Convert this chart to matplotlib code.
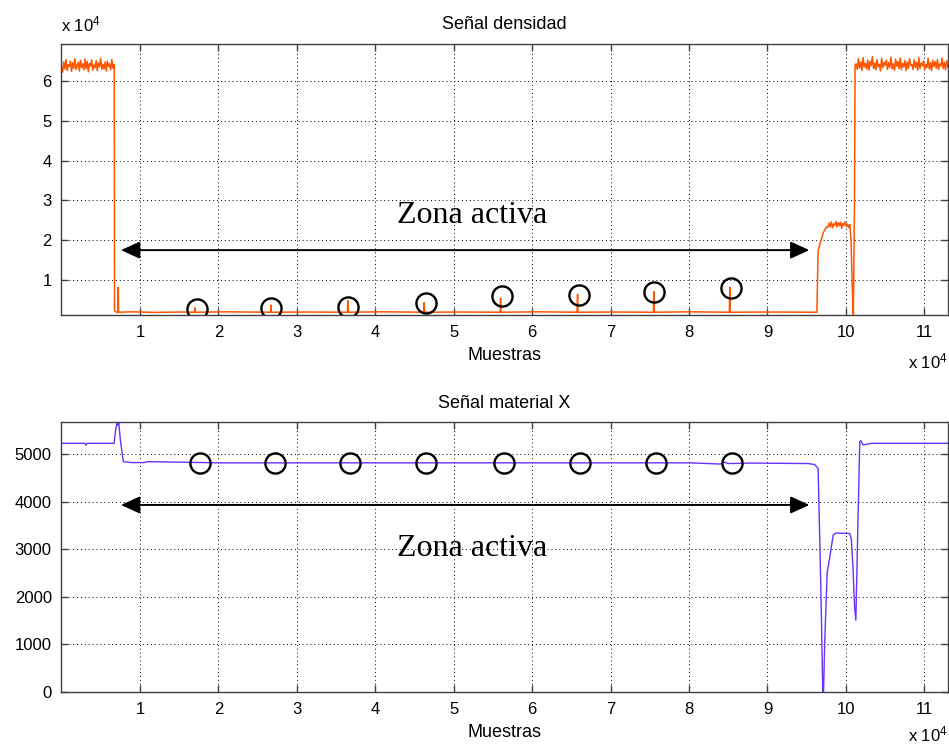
# -*- coding: utf-8 -*-
"""
Senal densidad / Senal material X  (estilo MATLAB)
"""
import numpy as np
import matplotlib
matplotlib.use('Agg')
import matplotlib.pyplot as plt
from matplotlib.ticker import FuncFormatter

plt.rcParams['font.family'] = ['Liberation Sans', 'DejaVu Sans']
plt.rcParams['mathtext.default'] = 'regular'

# ---------------- datos: senal densidad ----------------
dens_ruido_izq = [63500, 62200, 64800, 63000, 65400, 62600, 64100, 63700, 65000, 62400,
                  64600, 63200, 65600, 62900, 63900, 64700, 62500, 65200, 63400, 64300,
                  62800, 65500, 63100, 64900, 62300, 64400, 63800, 65300, 62700, 64000,
                  63300, 65100, 62600, 64500, 63600, 65700, 62900, 64200, 63000, 64800,
                  62500, 65000, 63700, 64300, 62800, 65400, 63200, 64100]
dens_ruido_izq_lim = (0, 6700)

dens_zona_x = [6730, 6760, 7000, 7200, 7240, 7280, 9000, 12000, 15000,
               16950, 17010, 17070, 21000, 26640, 26700, 26760, 31000,
               36460, 36520, 36580, 41000, 46180, 46240, 46300, 51000,
               55920, 55980, 56040, 61000, 65730, 65790, 65850, 70000,
               75460, 75520, 75580, 80000, 85140, 85200, 85260, 90000, 96300,
               96460, 96770, 97100, 97500]
dens_zona_y = [63800, 2300, 1900, 1950, 8200, 1900, 2000, 1850, 1950,
               1900, 3000, 1900, 2000, 1900, 3700, 1900, 1950,
               1900, 4800, 1900, 2000, 1900, 4300, 1900, 1950,
               1900, 5400, 1900, 2000, 1900, 6400, 1900, 1950,
               1900, 7100, 1900, 2000, 1900, 8200, 1900, 1950, 1900,
               17400, 19600, 21800, 23300]

dens_meseta = [23200, 24300, 23400, 24600, 23100, 24100, 23700, 24700, 23300, 24400,
               23600, 24500, 23000, 24200, 23800, 24600, 23400, 24100, 23200, 23900]
dens_meseta_lim = (97700, 100500)

dens_caida_x = [100660, 100800, 100950, 101100, 101170]
dens_caida_y = [20000, 9000, 1300, 30000, 64000]

dens_ruido_der = [64300, 62900, 65600, 63200, 64800, 62600, 65900, 63500, 64400, 63000,
                  65300, 62700, 64900, 63800, 66100, 63100, 64500, 62800, 65400, 63600,
                  64200, 62500, 65700, 63300, 64700, 63900, 65200, 62900, 64600, 63400,
                  66000, 63000, 64300, 62700, 65500, 63700, 64900, 63100, 65800, 62800,
                  64400, 63500, 65100, 62600, 64800, 63200, 65600, 63900, 64100, 62900,
                  65300, 63400, 64700, 62700, 65900, 63100, 64500, 63800, 65000, 62800,
                  64200, 63300, 65700, 63000, 64600, 62600, 65200, 63600, 64900, 63200,
                  65400, 62900, 64300, 63700, 65800, 63100, 64700, 62800, 65100, 63500]
dens_ruido_der_lim = (101300, 113000)

circ_dens_x = [17230, 26700, 36480, 46460, 56180, 65960, 75520, 85290]
circ_dens_y = [2640, 2890, 3290, 4150, 6060, 6230, 6910, 7910]

# ---------------- datos: senal material X ----------------
mat_x = [0, 3000, 3100, 3300, 3400, 6700, 6900, 7100, 7200, 7300, 7500, 7880,
         9000, 10500, 11000, 20000, 30000, 40000, 50000, 60000, 70000,
         80000, 84000, 84500, 85000, 88000, 95180, 96000, 96460, 96670,
         96890, 97050, 97150, 97310, 97610, 97950, 98380, 98700, 100500,
         100700, 100920, 101100, 101270, 101400, 101560, 101770, 101900,
         102200, 103260, 113000]
mat_y = [5225, 5225, 5190, 5225, 5225, 5225, 5500, 5670, 5600, 5670, 5300, 4840,
         4820, 4820, 4840, 4815, 4815, 4815, 4815, 4815, 4815,
         4815, 4790, 4830, 4800, 4810, 4800, 4780, 4700, 3190,
         1500, 0, 0, 1090, 2500, 2840, 3300, 3340, 3330,
         3200, 2560, 1800, 1510, 2500, 3760, 5260, 5280,
         5190, 5225, 5225]

circ_mat_x = [17650, 27210, 36770, 46460, 56400, 66090, 75770, 85460]
circ_mat_y = [4820, 4820, 4820, 4820, 4820, 4820, 4820, 4820]

# flecha "Zona activa"
zona_ini, zona_fin = 7580, 95350
zona_y_dens, zona_y_mat = 17500, 3930
texto_dens = (52400, 24200)
texto_mat = (52400, 2860)

XMAX = 113000

# construir la senal de densidad completa
dens_x = np.concatenate([
    np.linspace(dens_ruido_izq_lim[0], dens_ruido_izq_lim[1], len(dens_ruido_izq)),
    dens_zona_x,
    np.linspace(dens_meseta_lim[0], dens_meseta_lim[1], len(dens_meseta)),
    dens_caida_x,
    np.linspace(dens_ruido_der_lim[0], dens_ruido_der_lim[1], len(dens_ruido_der))])
dens_y = np.concatenate([dens_ruido_izq, dens_zona_y, dens_meseta,
                         dens_caida_y, dens_ruido_der])


def estilo_matlab(ax, off_y):
    for s in ax.spines.values():
        s.set_color('#404040')
        s.set_linewidth(1.0)
    ax.tick_params(direction='in', length=5, width=1.0, colors='#404040',
                   labelcolor='black', labelsize=12, top=True, right=True, pad=7)
    ax.grid(True, color='black', linestyle=(0, (1, 3)), linewidth=0.7)
    ax.set_xlim(0, XMAX)
    ax.set_xticks(np.arange(1, 12) * 10000)
    ax.xaxis.set_major_formatter(FuncFormatter(lambda v, p: '%d' % round(v / 1e4)))
    ax.set_xlabel('Muestras', fontsize=13, labelpad=5)
    ax.text(1.0, off_y, r'x 10$^{4}$', transform=ax.transAxes, ha='right',
            va='baseline', fontsize=12)


def flecha(ax, y, texto_xy):
    ax.annotate('', xy=(zona_ini, y), xytext=(zona_fin, y),
                arrowprops=dict(arrowstyle='<|-|>,head_length=0.55,head_width=0.25',
                                mutation_scale=21, color='black', lw=1.4,
                                shrinkA=0, shrinkB=0))
    ax.text(texto_xy[0], texto_xy[1], 'Zona activa', ha='center', va='baseline',
            fontsize=23, family=['Liberation Serif', 'DejaVu Serif'])


fig = plt.figure(figsize=(9.49, 7.45), dpi=100)

# ---------------- GRAFICO 1 : densidad ----------------
ax1 = fig.add_axes([0.0648, 0.5772, 0.934, 0.3638])
ax1.plot(dens_x, dens_y, color='#FF5500', lw=1.1)
ax1.plot(circ_dens_x, circ_dens_y, 'o', mfc='none', mec='black', ms=14.5, mew=1.7)
estilo_matlab(ax1, -0.196)
ax1.set_ylim(1206, 69300)
ax1.set_yticks(np.arange(1, 7) * 10000)
ax1.yaxis.set_major_formatter(FuncFormatter(lambda v, p: '%d' % round(v / 1e4)))
ax1.set_title('Señal densidad', fontsize=13, pad=11)
ax1.text(0.0, 1.035, r'x 10$^{4}$', transform=ax1.transAxes, ha='left',
         va='bottom', fontsize=12)
flecha(ax1, zona_y_dens, texto_dens)

# ---------------- GRAFICO 2 : material X ----------------
ax2 = fig.add_axes([0.0648, 0.0711, 0.934, 0.3624])
ax2.plot(mat_x, mat_y, color='#6633FF', lw=1.0)
ax2.plot(circ_mat_x, circ_mat_y, 'o', mfc='none', mec='black', ms=14.5, mew=1.7)
estilo_matlab(ax2, -0.182)
ax2.set_ylim(0, 5672)
ax2.set_yticks(np.arange(0, 6) * 1000)
ax2.set_title('Señal material X', fontsize=13, pad=10)
flecha(ax2, zona_y_mat, texto_mat)

plt.savefig('out.png', dpi=100)
plt.close()
print("OK out.png")
